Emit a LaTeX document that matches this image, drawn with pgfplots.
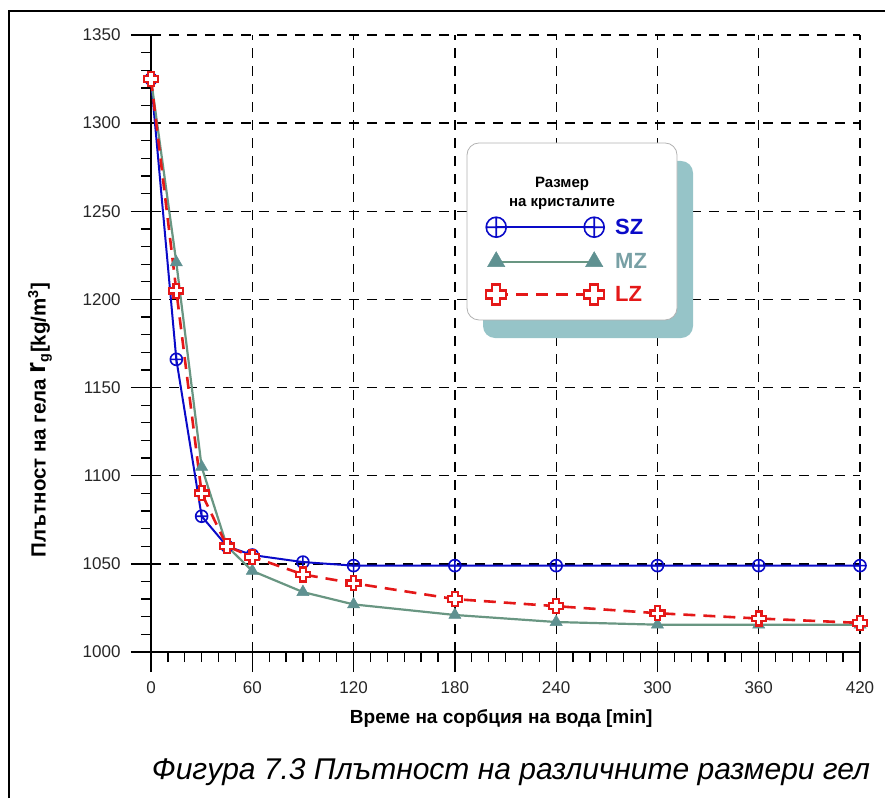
\documentclass[border=0pt]{standalone}
\usepackage{fontspec}
\setmainfont{Liberation Sans}
\usepackage{pgfplots}
\pgfplotsset{compat=1.18}

\definecolor{szblue}{RGB}{10,10,200}
\definecolor{mzline}{RGB}{105,150,130}
\definecolor{mzmark}{RGB}{95,145,145}
\definecolor{mztext}{RGB}{120,160,165}
\definecolor{lzred}{RGB}{228,24,24}
\definecolor{shadowteal}{RGB}{150,196,200}

% hollow Greek-cross marker
\pgfdeclareplotmark{hplus}{%
  \pgfpathmoveto{\pgfqpoint{-0.4\pgfplotmarksize}{\pgfplotmarksize}}%
  \pgfpathlineto{\pgfqpoint{0.4\pgfplotmarksize}{\pgfplotmarksize}}%
  \pgfpathlineto{\pgfqpoint{0.4\pgfplotmarksize}{0.4\pgfplotmarksize}}%
  \pgfpathlineto{\pgfqpoint{\pgfplotmarksize}{0.4\pgfplotmarksize}}%
  \pgfpathlineto{\pgfqpoint{\pgfplotmarksize}{-0.4\pgfplotmarksize}}%
  \pgfpathlineto{\pgfqpoint{0.4\pgfplotmarksize}{-0.4\pgfplotmarksize}}%
  \pgfpathlineto{\pgfqpoint{0.4\pgfplotmarksize}{-\pgfplotmarksize}}%
  \pgfpathlineto{\pgfqpoint{-0.4\pgfplotmarksize}{-\pgfplotmarksize}}%
  \pgfpathlineto{\pgfqpoint{-0.4\pgfplotmarksize}{-0.4\pgfplotmarksize}}%
  \pgfpathlineto{\pgfqpoint{-\pgfplotmarksize}{-0.4\pgfplotmarksize}}%
  \pgfpathlineto{\pgfqpoint{-\pgfplotmarksize}{0.4\pgfplotmarksize}}%
  \pgfpathlineto{\pgfqpoint{-0.4\pgfplotmarksize}{0.4\pgfplotmarksize}}%
  \pgfpathclose
  \pgfusepathqfillstroke
}

\begin{document}
\begin{tikzpicture}[x=1pt,y=1pt]
\useasboundingbox (0,0) rectangle (885,798);
% frame
\draw[line width=2.2pt] (9,0) -- (9,787) -- (886,787);

\begin{axis}[
  at={(151pt,146pt)}, anchor=south west,
  scale only axis, width=709pt, height=617pt,
  xmin=0, xmax=420, ymin=1000, ymax=1350,
  clip=false,
  axis lines=left,
  axis line style={-, black, line width=1.5pt},
  xtick={0,60,...,420}, ytick={1000,1050,...,1350},
  minor x tick num=5, minor y tick num=4,
  grid=major,
  major grid style={black, line width=1.3pt, dash pattern=on 10pt off 8pt},
  tick align=outside, major tick length=20pt, minor tick length=10pt,
  tick style={black, line width=1.3pt},
  extra x ticks={0,60,...,420}, extra x tick labels={},
  extra x tick style={tick align=inside, major tick length=10pt, grid=none},
  extra y ticks={1000,1050,...,1350}, extra y tick labels={},
  extra y tick style={tick align=inside, major tick length=10pt, grid=none},
  /pgf/number format/assume math mode=true,
  /pgf/number format/1000 sep={},
  ticklabel style={font=\fontsize{17}{19}\selectfont, text=black!85},
  xticklabel style={yshift=-6pt},
  yticklabel style={xshift=-7pt},
  xlabel={Време на сорбция на вода [min]},
  ylabel={Плътност на гела {\fontsize{28}{28}\selectfont r}\textsubscript{g}[kg/m\textsuperscript{3}]},
  label style={font=\bfseries\fontsize{19}{21}\selectfont},
  ylabel style={font=\bfseries\fontsize{20.5}{22}\selectfont},
  xlabel style={at={(axis description cs:0.494,-0.107)}, anchor=center},
  ylabel style={at={(axis description cs:-0.1566,0.376)}, anchor=center},
  legend image code/.code={\draw[#1,mark size=10pt] plot coordinates {(0pt,0pt) (98pt,0pt)};},
  legend style={draw=none, fill=none, inner sep=0pt, row sep=14.5pt, column sep=11pt,
    at={(axis description cs:0.4725,0.705)}, anchor=north west,
    font=\bfseries\fontsize{22}{22}\selectfont, nodes={inner sep=0pt}},
  legend cell align=left,
]

\addplot[szblue, line width=2pt, mark=oplus, mark size=6pt,
  mark options={line width=1.6pt, fill=white}]
  coordinates {(0,1325) (15,1166) (30,1077) (45,1060) (60,1055) (90,1051)
    (120,1049) (180,1049) (240,1049) (300,1049) (360,1049) (420,1049)};
\addlegendentry{\textcolor{szblue}{SZ}}

\addplot[mzline, line width=2.2pt, mark=triangle*, mark size=7pt,
  mark options={fill=mzmark, draw=mzmark, line width=0.5pt}]
  coordinates {(0,1325) (15,1221) (30,1105) (45,1060) (60,1046) (90,1034)
    (120,1027) (180,1021) (240,1017) (300,1015.5) (360,1015.5) (420,1015.5)};
\addlegendentry{\textcolor{mztext}{MZ}}

\addplot[lzred, line width=2.6pt, dash pattern=on 12pt off 8pt, mark=hplus, mark size=7pt,
  mark options={solid, fill=white, line width=2.2pt}]
  coordinates {(0,1325) (15,1205) (30,1090) (45,1060) (60,1054) (90,1044)
    (120,1039) (180,1030) (240,1026) (300,1022) (360,1019) (420,1016.5)};
\addlegendentry{\textcolor{lzred}{LZ}}

% legend panel with its shadow
\fill[shadowteal, rounded corners=12pt]
  (axis description cs:0.4683,0.5089) rectangle (axis description cs:0.7645,0.7958);
\filldraw[fill=white, draw=black!30, line width=0.8pt, rounded corners=12pt]
  (axis description cs:0.4457,0.5381) rectangle (axis description cs:0.7419,0.8250);
\node[align=center, font=\bfseries\fontsize{15}{19}\selectfont]
  at (axis description cs:0.5797,0.7425) {Размер\\на кристалите};
\end{axis}

\node[font=\itshape\fontsize{30}{32}\selectfont] at (511,26)
  {Фигура 7.3 Плътност на различните размери гел};
\end{tikzpicture}
\end{document}
